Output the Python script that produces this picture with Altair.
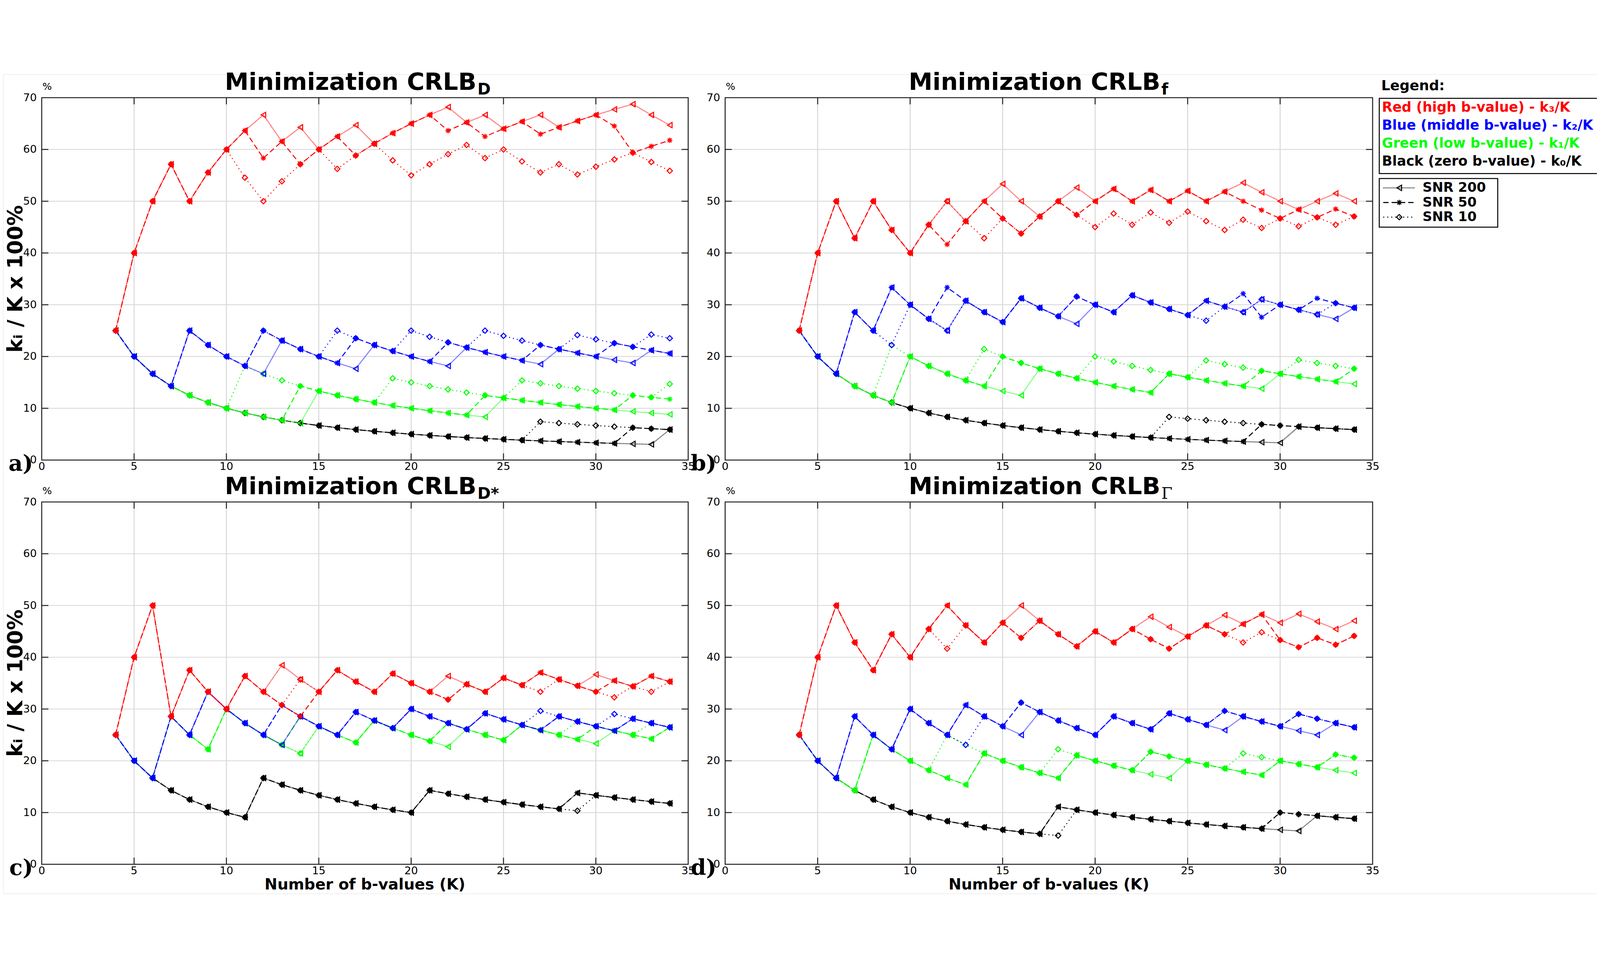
import altair as alt
import pandas as pd

# ---------------------------------------------------------------------------
# Data: number of b-values per group k0 (black, zero b), k1 (green, low b),
# k2 (blue, middle b), k3 (red, high b) for K = 4..34.
# Plotted value = k_i / K x 100 %.
# ---------------------------------------------------------------------------
K_VALUES = list(range(4, 35))

# ---- a) Minimization CRLB_D
A_SNR200 = [(1,1,1,1),(1,1,1,2),(1,1,1,3),(1,1,1,4),(1,1,2,4),(1,1,2,5),(1,1,2,6),(1,1,2,7),
            (1,1,2,8),(1,1,3,8),(1,1,3,9),(1,2,3,9),(1,2,3,10),(1,2,3,11),(1,2,4,11),(1,2,4,12),
            (1,2,4,13),(1,2,4,14),(1,2,4,15),(1,2,5,15),(1,2,5,16),(1,3,5,16),(1,3,5,17),(1,3,5,18),
            (1,3,6,18),(1,3,6,19),(1,3,6,20),(1,3,6,21),(1,3,6,22),(1,3,7,22),(2,3,7,22)]
A_SNR50 = [(1,1,1,1),(1,1,1,2),(1,1,1,3),(1,1,1,4),(1,1,2,4),(1,1,2,5),(1,1,2,6),(1,1,2,7),
           (1,1,3,7),(1,1,3,8),(1,2,3,8),(1,2,3,9),(1,2,3,10),(1,2,4,10),(1,2,4,11),(1,2,4,12),
           (1,2,4,13),(1,2,4,14),(1,2,5,14),(1,2,5,15),(1,3,5,15),(1,3,5,16),(1,3,5,17),(1,3,6,17),
           (1,3,6,18),(1,3,6,19),(1,3,6,20),(1,3,7,20),(2,4,7,19),(2,4,7,20),(2,4,7,21)]
A_SNR10 = [(1,1,1,1),(1,1,1,2),(1,1,1,3),(1,1,1,4),(1,1,2,4),(1,1,2,5),(1,1,2,6),(1,2,2,6),
           (1,2,3,6),(1,2,3,7),(1,2,3,8),(1,2,3,9),(1,2,4,9),(1,2,4,10),(1,2,4,11),(1,3,4,11),
           (1,3,5,11),(1,3,5,12),(1,3,5,13),(1,3,5,14),(1,3,6,14),(1,3,6,15),(1,4,6,15),(2,4,6,15),
           (2,4,6,16),(2,4,7,16),(2,4,7,17),(2,4,7,18),(2,4,7,19),(2,4,8,19),(2,5,8,19)]

# ---- b) Minimization CRLB_f
B_SNR200 = [(1,1,1,1),(1,1,1,2),(1,1,1,3),(1,1,2,3),(1,1,2,4),(1,1,3,4),(1,2,3,4),(1,2,3,5),
            (1,2,3,6),(1,2,4,6),(1,2,4,7),(1,2,4,8),(1,2,5,8),(1,3,5,8),(1,3,5,9),(1,3,5,10),
            (1,3,6,10),(1,3,6,11),(1,3,7,11),(1,3,7,12),(1,4,7,12),(1,4,7,13),(1,4,8,13),(1,4,8,14),
            (1,4,8,15),(1,4,9,15),(1,5,9,15),(2,5,9,15),(2,5,9,16),(2,5,9,17),(2,5,10,17)]
B_SNR50 = [(1,1,1,1),(1,1,1,2),(1,1,1,3),(1,1,2,3),(1,1,2,4),(1,1,3,4),(1,2,3,4),(1,2,3,5),
           (1,2,4,5),(1,2,4,6),(1,2,4,7),(1,3,4,7),(1,3,5,7),(1,3,5,8),(1,3,5,9),(1,3,6,9),
           (1,3,6,10),(1,3,6,11),(1,3,7,11),(1,3,7,12),(1,4,7,12),(1,4,7,13),(1,4,8,13),(1,4,8,14),
           (1,4,9,14),(2,5,8,14),(2,5,9,14),(2,5,9,15),(2,5,10,15),(2,5,10,16),(2,6,10,16)]
B_SNR10 = [(1,1,1,1),(1,1,1,2),(1,1,1,3),(1,1,2,3),(1,1,2,4),(1,2,2,4),(1,2,3,4),(1,2,3,5),
           (1,2,3,6),(1,2,4,6),(1,3,4,6),(1,3,4,7),(1,3,5,7),(1,3,5,8),(1,3,5,9),(1,3,6,9),
           (1,4,6,9),(1,4,6,10),(1,4,7,10),(1,4,7,11),(2,4,7,11),(2,4,7,12),(2,5,7,12),(2,5,8,12),
           (2,5,8,13),(2,5,9,13),(2,5,9,14),(2,6,9,14),(2,6,9,15),(2,6,10,15),(2,6,10,16)]

# ---- c) Minimization CRLB_D*
C_SNR200 = [(1,1,1,1),(1,1,1,2),(1,1,1,3),(1,2,2,2),(1,2,2,3),(1,2,3,3),(1,3,3,3),(1,3,3,4),
            (2,3,3,4),(2,3,3,5),(2,3,4,5),(2,4,4,5),(2,4,4,6),(2,4,5,6),(2,5,5,6),(2,5,5,7),
            (2,5,6,7),(3,5,6,7),(3,5,6,8),(3,6,6,8),(3,6,7,8),(3,6,7,9),(3,7,7,9),(3,7,7,10),
            (3,7,8,10),(4,7,8,10),(4,7,8,11),(4,8,8,11),(4,8,9,11),(4,8,9,12),(4,9,9,12)]
C_SNR50 = [(1,1,1,1),(1,1,1,2),(1,1,1,3),(1,2,2,2),(1,2,2,3),(1,2,3,3),(1,3,3,3),(1,3,3,4),
           (2,3,3,4),(2,3,4,4),(2,4,4,4),(2,4,4,5),(2,4,4,6),(2,4,5,6),(2,5,5,6),(2,5,5,7),
           (2,5,6,7),(3,5,6,7),(3,6,6,7),(3,6,6,8),(3,6,7,8),(3,6,7,9),(3,7,7,9),(3,7,7,10),
           (3,7,8,10),(4,7,8,10),(4,8,8,10),(4,8,8,11),(4,8,9,11),(4,8,9,12),(4,9,9,12)]
C_SNR10 = [(1,1,1,1),(1,1,1,2),(1,1,1,3),(1,2,2,2),(1,2,2,3),(1,2,3,3),(1,3,3,3),(1,3,3,4),
           (2,3,3,4),(2,3,4,4),(2,3,4,5),(2,4,4,5),(2,4,4,6),(2,4,5,6),(2,5,5,6),(2,5,5,7),
           (2,5,6,7),(3,5,6,7),(3,6,6,7),(3,6,6,8),(3,6,7,8),(3,6,7,9),(3,7,7,9),(3,7,8,9),
           (3,7,8,10),(3,8,8,10),(4,8,8,10),(4,8,9,10),(4,8,9,11),(4,9,9,11),(4,9,9,12)]

# ---- d) Minimization CRLB_Gamma
D_SNR200 = [(1,1,1,1),(1,1,1,2),(1,1,1,3),(1,1,2,3),(1,2,2,3),(1,2,2,4),(1,2,3,4),(1,2,3,5),
            (1,2,3,6),(1,2,4,6),(1,3,4,6),(1,3,4,7),(1,3,4,8),(1,3,5,8),(2,3,5,8),(2,4,5,8),
            (2,4,5,9),(2,4,6,9),(2,4,6,10),(2,4,6,11),(2,4,7,11),(2,5,7,11),(2,5,7,12),(2,5,7,13),
            (2,5,8,13),(2,5,8,14),(2,6,8,14),(2,6,8,15),(3,6,8,15),(3,6,9,15),(3,6,9,16)]
D_SNR50 = [(1,1,1,1),(1,1,1,2),(1,1,1,3),(1,1,2,3),(1,2,2,3),(1,2,2,4),(1,2,3,4),(1,2,3,5),
           (1,2,3,6),(1,2,4,6),(1,3,4,6),(1,3,4,7),(1,3,5,7),(1,3,5,8),(2,3,5,8),(2,4,5,8),
           (2,4,5,9),(2,4,6,9),(2,4,6,10),(2,5,6,10),(2,5,7,10),(2,5,7,11),(2,5,7,12),(2,5,8,12),
           (2,5,8,13),(2,5,8,14),(3,6,8,13),(3,6,9,13),(3,6,9,14),(3,7,9,14),(3,7,9,15)]
D_SNR10 = [(1,1,1,1),(1,1,1,2),(1,1,1,3),(1,1,2,3),(1,2,2,3),(1,2,2,4),(1,2,3,4),(1,2,3,5),
           (1,3,3,5),(1,3,3,6),(1,3,4,6),(1,3,4,7),(1,3,5,7),(1,3,5,8),(1,4,5,8),(2,4,5,8),
           (2,4,5,9),(2,4,6,9),(2,4,6,10),(2,5,6,10),(2,5,7,10),(2,5,7,11),(2,5,7,12),(2,5,8,12),
           (2,6,8,12),(2,6,8,13),(3,6,8,13),(3,6,9,13),(3,6,9,14),(3,7,9,14),(3,7,9,15)]

SNRS = ["SNR 200", "SNR 50", "SNR 10"]
GROUPS = ["black", "green", "blue", "red"]
HEX = {"black": "#000000", "green": "#00ff00", "blue": "#0000ff", "red": "#ff0000"}
X_TICKS = [0, 5, 10, 15, 20, 25, 30, 35]
Y_TICKS = [0, 10, 20, 30, 40, 50, 60, 70]

LEGEND_COLOR_LINES = [("Red (high b-value) - k\u2083/K", "#ff0000"),
                      ("Blue (middle b-value) - k\u2082/K", "#0000ff"),
                      ("Green (low b-value) - k\u2081/K", "#00ff00"),
                      ("Black (zero b-value) - k\u2080/K", "#000000")]

# ---------------------------------------------------------------------------
CW, CH = 4790, 2462                # whole drawing (page minus 8px margins)
COLS = [(116, 2059), (2170, 4116)]  # plot-area x ranges (left / right column)
ROWS = [(70, 1159), (1285, 2374)]   # plot-area y ranges (top / bottom row)
FONT = "DejaVu Sans"
FRAME = "#262626"
GRID = "#d9d9d9"
ASTERISK = "M-1,0L1,0M0,-1L0,1M-0.72,-0.72L0.72,0.72M-0.72,0.72L0.72,-0.72"
DASHES = [[2, 2], [16, 9], [3, 9]]
SHAPES = ["triangle-left", ASTERISK, "diamond"]
DASH_SCALE = alt.Scale(domain=SNRS, range=DASHES)
SHAPE_SCALE = alt.Scale(domain=SNRS, range=SHAPES)
ONE = pd.DataFrame({"z": [0]})
XT = pd.DataFrame({"t": X_TICKS})
YT = pd.DataFrame({"t": Y_TICKS})
XT_IN = pd.DataFrame({"t": X_TICKS[1:-1]})
YT_IN = pd.DataFrame({"t": Y_TICKS[1:-1]})


def build_df(c200, c50, c10):
    rows = []
    for snr, counts in zip(SNRS, [c200, c50, c10]):
        for k, tup in zip(K_VALUES, counts):
            for gi, g in enumerate(GROUPS):
                rows.append({"K": k, "v": 100.0 * tup[gi] / k, "group": g, "snr": snr})
    return pd.DataFrame(rows)


def txt(x, y, s, size, weight="normal", align="left", baseline="alphabetic",
        color="#000000", font=FONT, angle=0):
    return alt.Chart(ONE).mark_text(
        text=s, fontSize=size, fontWeight=weight, align=align, baseline=baseline,
        color=color, font=font, angle=angle).encode(x=alt.value(x), y=alt.value(y))


def panel(df, col, row, sub, sub_font, sub_weight, label, xtitle, ytitle, legend):
    x0, x1 = COLS[col]
    y0, y1 = ROWS[row]
    xs = alt.Scale(domain=[0, 35], range=[x0, x1], nice=False, zero=False)
    ys = alt.Scale(domain=[0, 70], range=[y1, y0], nice=False, zero=False)

    def X(f):
        return alt.X(f, scale=xs, axis=None)

    def Y(f):
        return alt.Y(f, scale=ys, axis=None)

    layers = []
    # grid
    layers.append(alt.Chart(XT).mark_rule(color=GRID, strokeWidth=3).encode(
        x=X("t:Q"), y=alt.value(y0), y2=alt.value(y1)))
    layers.append(alt.Chart(YT).mark_rule(color=GRID, strokeWidth=2.5).encode(
        y=Y("t:Q"), x=alt.value(x0), x2=alt.value(x1)))
    # data
    base = alt.Chart(df)
    for g in GROUPS:
        sel = base.transform_filter(alt.datum.group == g)
        layers.append(sel.mark_line(color=HEX[g], strokeWidth=3).encode(
            x=X("K:Q"), y=Y("v:Q"),
            strokeDash=alt.StrokeDash("snr:N", scale=DASH_SCALE, legend=None),
            order="K:Q"))
        layers.append(sel.mark_point(color=HEX[g], filled=False, strokeWidth=3,
                                     size=260, opacity=1).encode(
            x=X("K:Q"), y=Y("v:Q"),
            shape=alt.Shape("snr:N", scale=SHAPE_SCALE, legend=None)))
    # frame and inward ticks
    layers.append(alt.Chart(ONE).mark_rect(fillOpacity=0, stroke=FRAME, strokeWidth=3).encode(
        x=alt.value(x0), x2=alt.value(x1), y=alt.value(y0), y2=alt.value(y1)))
    tick = dict(color=FRAME, strokeWidth=3)
    layers.append(alt.Chart(XT_IN).mark_rule(**tick).encode(
        x=X("t:Q"), y=alt.value(y1), y2=alt.value(y1 - 20)))
    layers.append(alt.Chart(XT_IN).mark_rule(**tick).encode(
        x=X("t:Q"), y=alt.value(y0), y2=alt.value(y0 + 20)))
    layers.append(alt.Chart(YT_IN).mark_rule(**tick).encode(
        y=Y("t:Q"), x=alt.value(x0), x2=alt.value(x0 + 20)))
    layers.append(alt.Chart(YT_IN).mark_rule(**tick).encode(
        y=Y("t:Q"), x=alt.value(x1), x2=alt.value(x1 - 20)))
    # tick labels
    layers.append(alt.Chart(XT).mark_text(fontSize=32, font=FONT, baseline="top",
                                          align="center", color="#000000").encode(
        x=X("t:Q"), y=alt.value(y1 + 5), text=alt.Text("t:Q", format="d")))
    layers.append(alt.Chart(YT).mark_text(fontSize=32, font=FONT, baseline="middle",
                                          align="right", color="#000000").encode(
        y=Y("t:Q"), x=alt.value(x0 - 15), text=alt.Text("t:Q", format="d")))

    # title with subscript
    W = x1 - x0
    x_end = x0 + W / 2 + 335
    layers.append(txt(x_end, y0 - 24, "Minimization CRLB", 72, weight="bold", align="right"))
    layers.append(txt(x_end + 3, y0 - 9, sub, 48, weight=sub_weight, align="left",
                      font=sub_font))
    layers.append(txt(x0 + 2, y0 - 24, "%", 30))
    layers.append(txt(x0 - 26, y1 + 32, label, 66, weight="bold", align="right",
                      font="DejaVu Serif"))
    if xtitle:
        layers.append(txt((x0 + x1) / 2, y1 + 62, "Number of b-values (K)", 46,
                          weight="bold", align="center", baseline="middle"))
    if ytitle:
        layers.append(txt(x0 - 78, (y0 + y1) / 2, "k\u1d62 / K x 100%", 62, weight="bold",
                          align="center", baseline="middle", angle=270))
    if legend:
        lx = x1 + 20
        layers.append(txt(lx + 6, y0 - 22, "Legend:", 42, weight="bold"))
        layers.append(alt.Chart(ONE).mark_rect(fill="#ffffff", stroke="#000000",
                                               strokeWidth=3).encode(
            x=alt.value(lx), x2=alt.value(lx + 656), y=alt.value(y0 + 2),
            y2=alt.value(y0 + 228)))
        for i, (s, c) in enumerate(LEGEND_COLOR_LINES):
            layers.append(txt(lx + 8, y0 + 30 + 54 * i, s, 41, weight="bold", color=c,
                              baseline="middle"))
        layers.append(alt.Chart(ONE).mark_rect(fill="#ffffff", stroke="#000000",
                                               strokeWidth=3).encode(
            x=alt.value(lx), x2=alt.value(lx + 356), y=alt.value(y0 + 243),
            y2=alt.value(y0 + 389)))
        for i, snr in enumerate(SNRS):
            yy = y0 + 271 + 44 * i
            layers.append(alt.Chart(ONE).mark_rule(color="#000000", strokeWidth=3,
                                                   strokeDash=DASHES[i]).encode(
                x=alt.value(lx + 12), x2=alt.value(lx + 108), y=alt.value(yy)))
            layers.append(alt.Chart(ONE).mark_point(shape=SHAPES[i], filled=False,
                                                    color="#000000", strokeWidth=3,
                                                    size=260, opacity=1).encode(
                x=alt.value(lx + 60), y=alt.value(yy)))
            layers.append(txt(lx + 130, yy, snr, 40, weight="bold", baseline="middle"))
    return alt.layer(*layers)


pa = panel(build_df(A_SNR200, A_SNR50, A_SNR10), 0, 0, "D", FONT, "bold", "a)",
           False, True, False)
pb = panel(build_df(B_SNR200, B_SNR50, B_SNR10), 1, 0, "f", FONT, "bold", "b)",
           False, False, True)
pc = panel(build_df(C_SNR200, C_SNR50, C_SNR10), 0, 1, "D*", FONT, "bold", "c)",
           True, True, False)
pd_ = panel(build_df(D_SNR200, D_SNR50, D_SNR10), 1, 1, "\u0393", "DejaVu Serif", "normal",
            "d)", True, False, False)

chart = alt.layer(pa, pb, pc, pd_).resolve_scale(
    x="independent", y="independent"
).properties(
    width=CW, height=CH, autosize=alt.AutoSizeParams(type="none"), padding=0
).configure_view(stroke=None).configure(font=FONT)

chart.save("out.html", embed_options={"renderer": "svg", "actions": False})
